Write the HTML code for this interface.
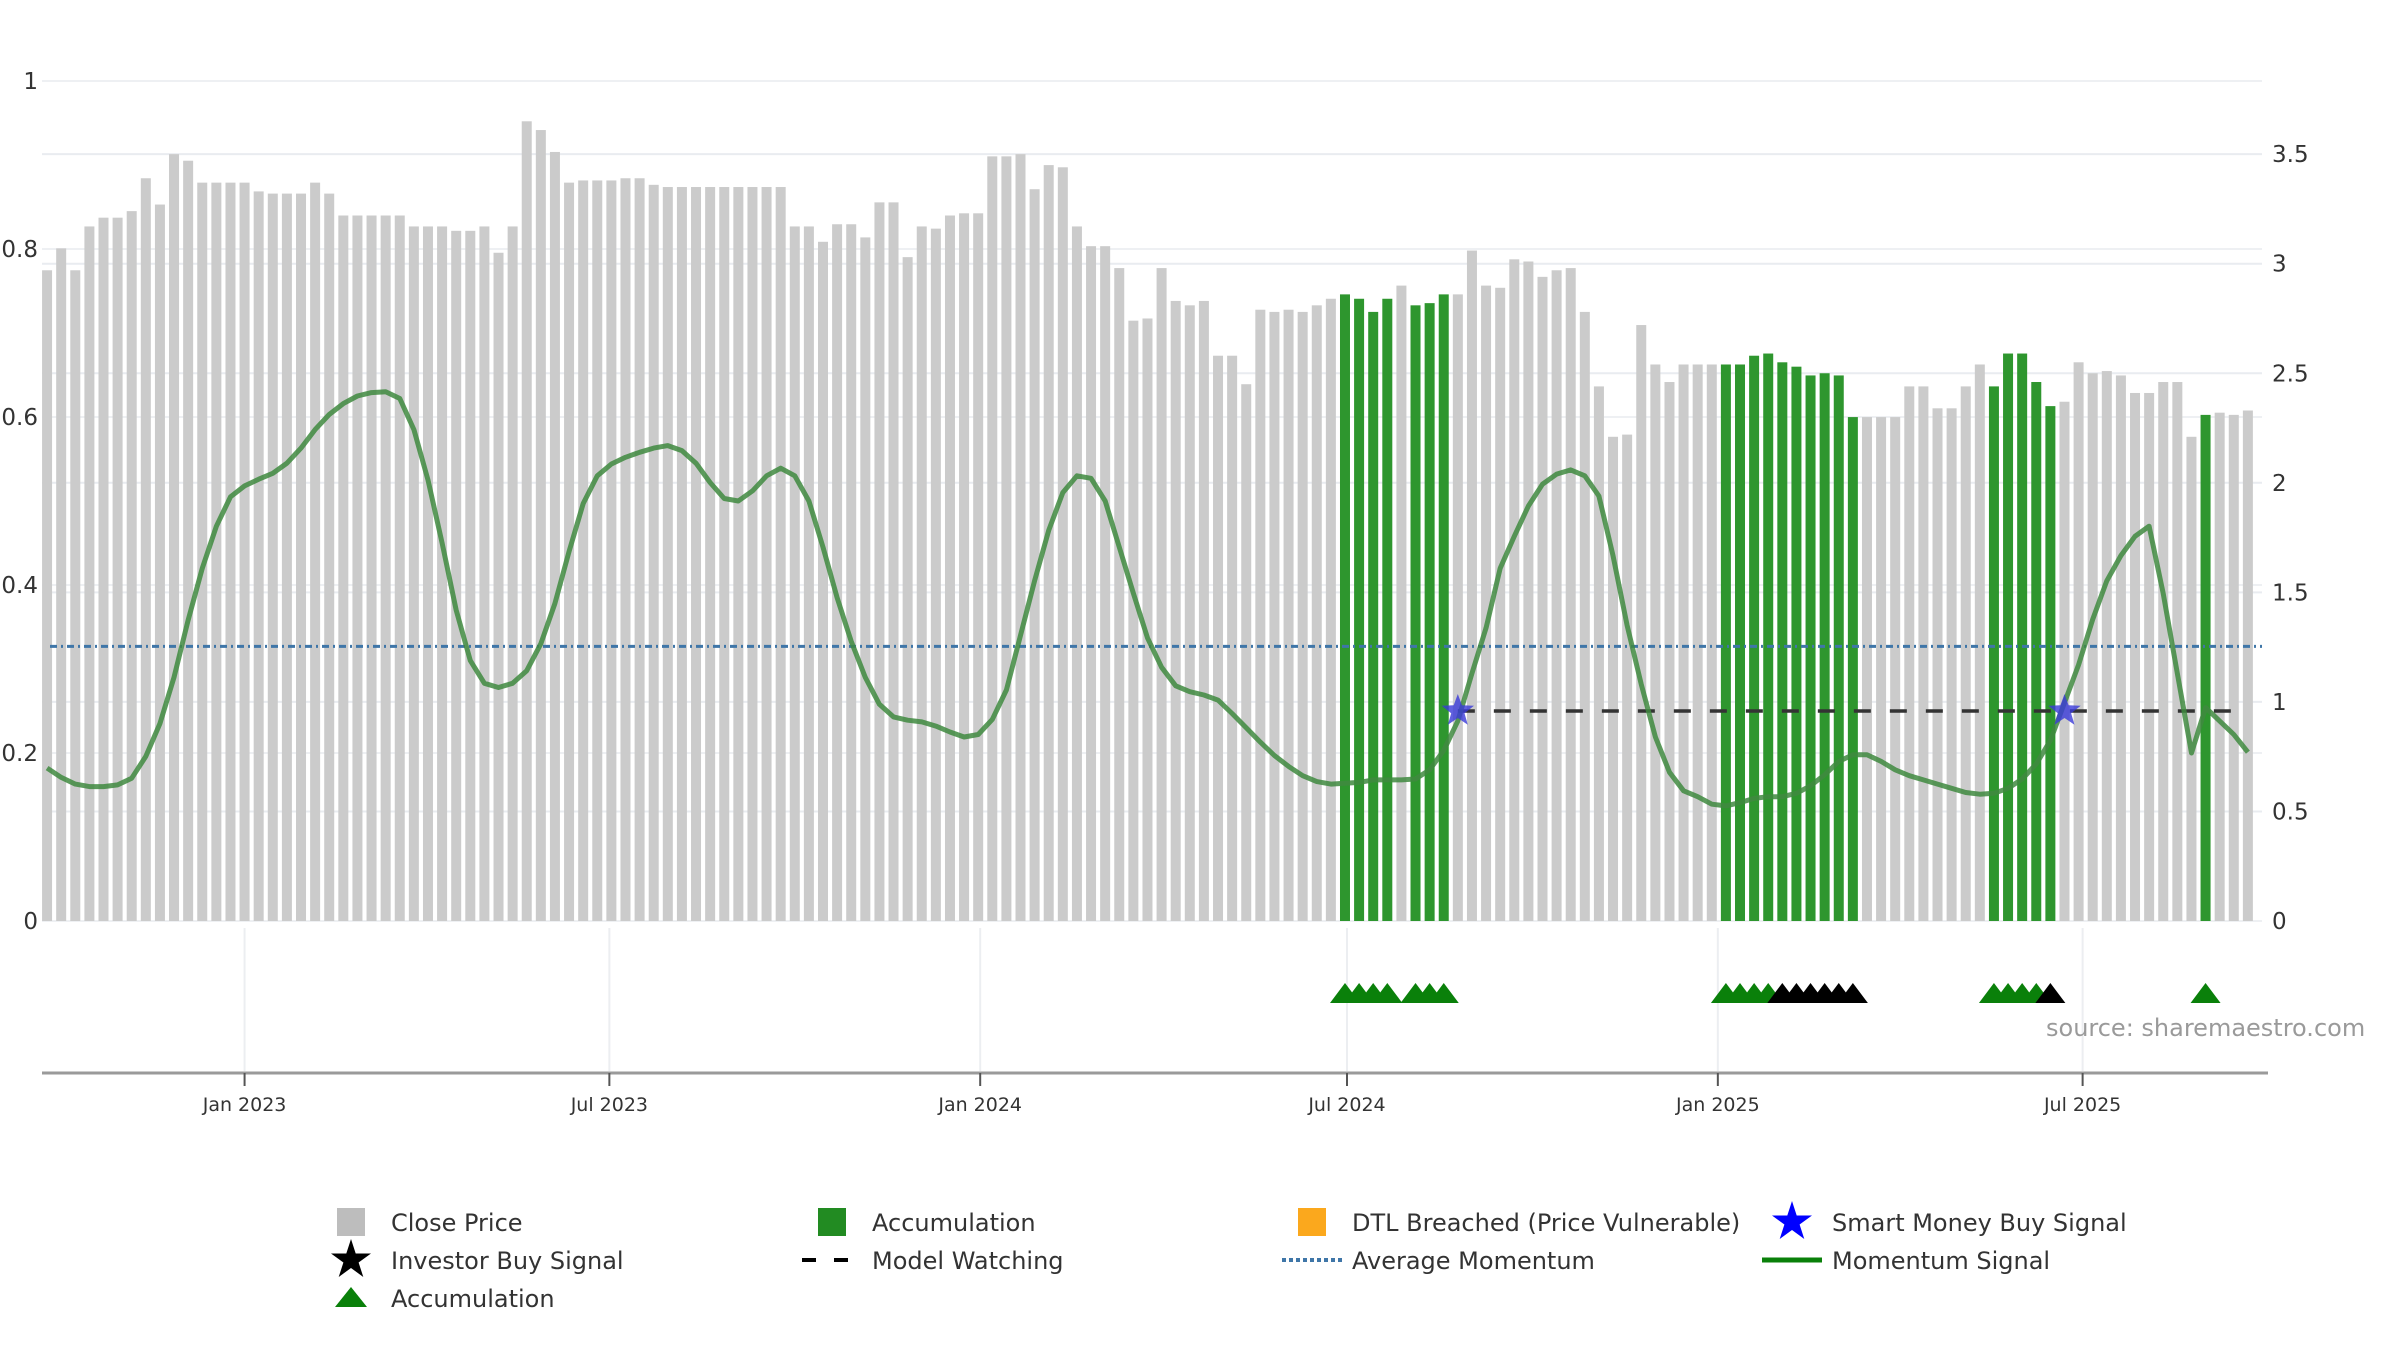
<!DOCTYPE html>
<html><head><meta charset="utf-8">
<style>
html,body{margin:0;padding:0;background:#fff;}
svg{display:block;font-family:"DejaVu Sans","Liberation Sans",sans-serif;}
</style></head>
<body>
<svg id="chart" width="2400" height="1350" viewBox="0 0 2400 1350" xmlns="http://www.w3.org/2000/svg">
  <g id="grid"></g>
  <g id="bars"></g>
  <g id="lines"></g>
  <g id="markers"></g>
  <g id="axes"></g>
  <text x="2046" y="1036" font-size="24" fill="#9a9a9a">source: sharemaestro.com</text>
  <g id="legend"></g>
</svg>
<script>
// ---- data ----
const closePrice = [2.97,3.07,2.97,3.17,3.21,3.21,3.24,3.39,3.27,3.50,3.47,3.37,3.37,3.37,3.37,3.33,3.32,3.32,3.32,3.37,3.32,3.22,3.22,3.22,3.22,3.22,3.17,3.17,3.17,3.15,3.15,3.17,3.05,3.17,3.65,3.61,3.51,3.37,3.38,3.38,
3.38,3.39,3.39,3.36,3.35,3.35,3.35,3.35,3.35,3.35,3.35,3.35,3.35,3.17,3.17,3.10,3.18,3.18,3.12,3.28,3.28,3.03,3.17,3.16,3.22,3.23,3.23,3.49,3.49,3.50,3.34,3.45,3.44,3.17,3.08,3.08,2.98,2.74,2.75,
2.98,2.83,2.81,2.83,2.58,2.58,2.45,2.79,2.78,2.79,2.78,2.81,2.84,2.86,2.84,2.78,2.84,2.90,2.81,2.82,2.86,2.86,3.06,2.90,2.89,3.02,3.01,2.94,2.97,2.98,2.78,2.44,2.21,2.22,2.72,2.54,2.46,2.54,
2.54,2.54,2.54,2.54,2.58,2.59,2.55,2.53,2.49,2.50,2.49,2.30,2.30,2.30,2.30,2.44,2.44,2.34,2.34,2.44,2.54,2.44,2.59,2.59,2.46,2.35,2.37,2.55,2.50,2.51,2.49,2.41,2.41,2.46,2.46,2.21,2.31,2.32,2.31,2.33];
const momentum = [0.182,0.171,0.163,0.160,0.160,0.162,0.170,0.196,0.235,0.29,0.358,0.42,0.47,0.505,0.518,0.526,0.533,0.545,0.563,0.585,0.603,0.616,0.625,0.629,0.630,0.622,0.585,0.525,0.45,0.37,0.31,0.283,0.278,0.283,0.298,0.33,0.378,0.44,0.497,0.53,
0.544,0.552,0.558,0.563,0.566,0.560,0.545,0.522,0.503,0.50,0.512,0.53,0.539,0.53,0.50,0.445,0.385,0.333,0.29,0.258,0.243,0.239,0.237,0.232,0.225,0.219,0.222,0.24,0.275,0.34,0.405,0.465,0.51,0.53,0.527,0.5,0.445,0.39,0.337,
0.302,0.280,0.273,0.269,0.263,0.247,0.230,0.213,0.197,0.184,0.173,0.166,0.163,0.164,0.165,0.168,0.168,0.168,0.169,0.18,0.203,0.238,0.295,0.349,0.42,0.458,0.494,0.52,0.532,0.537,0.53,0.506,0.435,0.352,0.282,0.219,0.177,0.155,
0.148,0.139,0.137,0.141,0.146,0.148,0.148,0.152,0.161,0.174,0.190,0.198,0.198,0.19,0.18,0.173,0.168,0.163,0.158,0.153,0.151,0.152,0.158,0.169,0.187,0.215,0.26,0.305,0.359,0.405,0.435,0.458,0.47,0.39,0.295,0.20,0.254,0.238,0.222,0.201];
const accumulationWeeks = [93,94,95,96,98,99,100,120,121,122,123,124,125,126,127,128,129,139,140,141,142,143,154];
const investorBuyWeeks = [124,125,126,127,128,129,143];
const smartMoneyWeeks = [101,144];
const averageMomentum = [0.327];
const modelWatchingLevel = [0.25];
const modelWatchingEndWeek = [156];
const firstWeek = ["2022-09-25"];
const xTickLabels = ["Jan 2023","Jul 2023","Jan 2024","Jul 2024","Jan 2025","Jul 2025"];
const xTickDates = ["2023-01-01","2023-07-01","2024-01-01","2024-07-01","2025-01-01","2025-07-01"];
const leftTicks = [0,0.2,0.4,0.6,0.8,1];
const leftTickLabels = ["0","0.2","0.4","0.6","0.8","1"];
const rightTicks = [0,0.5,1,1.5,2,2.5,3,3.5];
const rightTickLabels = ["0","0.5","1","1.5","2","2.5","3","3.5"];

// ---- scales ----
const NS = "http://www.w3.org/2000/svg";
const DAY = 86400000;
const refDate = Date.parse("2024-07-01");
function xDate(d){ return 1347 + (Date.parse(d) - refDate)/DAY*2.0154; }
function xWeek(w){ return 1347 + (Date.parse(firstWeek[0]) + (w-1)*7*DAY - refDate)/DAY*2.0154; }
function yL(v){ return 921 - v*840; }
function yR(v){ return 921 - v*219.1; }
function mk(tag, attrs, parent){
  const e = document.createElementNS(NS, tag);
  for (const k in attrs) e.setAttribute(k, attrs[k]);
  parent.appendChild(e); return e;
}
const gGrid = document.getElementById('grid');
const gBars = document.getElementById('bars');
const gLines = document.getElementById('lines');
const gMark = document.getElementById('markers');
const gAxes = document.getElementById('axes');
const gLeg = document.getElementById('legend');
const X0 = 42, X1 = 2268;

// gridlines
rightTicks.forEach(t=>{
  const l = mk('line',{x1:X0,x2:X1-6,y1:yR(t),y2:yR(t),stroke:'#e9ecf0','stroke-width':2},gGrid);
  
  
});
leftTicks.forEach(t=>{
  const l = mk('line',{x1:X0,x2:X1-6,y1:yL(t),y2:yL(t),stroke:'#eef0f3','stroke-width':2},gGrid);
  
  
});
xTickDates.forEach(d=>{
  const x = xDate(d);
  const l = mk('line',{x1:x,x2:x,y1:928,y2:1071,stroke:'#eceef1','stroke-width':2},gGrid);
  
  
});

// bars
closePrice.forEach((v,i)=>{
  const w = i+1;
  const acc = accumulationWeeks.includes(w);
  const x = xWeek(w);
  const r = mk('rect',{x:x-5,y:yR(v),width:10,height:921-yR(v),fill:acc?'#2e962e':'#cbcbcb'},gBars);
  
  
});

// average momentum
const avg = mk('line',{x1:X0+8,x2:X1-6,y1:yL(averageMomentum[0]),y2:yL(averageMomentum[0]),stroke:'#3f76a8','stroke-width':3,'stroke-dasharray':'7,4,2,4'},gLines);



// model watching
const mw = mk('line',{x1:xWeek(smartMoneyWeeks[0]),x2:xWeek(modelWatchingEndWeek[0]),y1:yL(modelWatchingLevel[0]),y2:yL(modelWatchingLevel[0]),stroke:'#333','stroke-width':3.5,'stroke-dasharray':'17,19'},gLines);



// momentum line
let d = '';
momentum.forEach((v,i)=>{ d += (i?'L':'M') + xWeek(i+1).toFixed(1) + ',' + yL(v).toFixed(1); });
const ml = mk('path',{d:d,fill:'none',stroke:'#3f8a3f','stroke-opacity':0.85,'stroke-width':5,'stroke-linejoin':'round'},gLines);



// star helper
function starPts(cx,cy,R,r){
  let p=[];
  for(let k=0;k<10;k++){const a=-Math.PI/2+k*Math.PI/5;const rr=k%2?r:R;p.push((cx+rr*Math.cos(a)).toFixed(1)+','+(cy+rr*Math.sin(a)).toFixed(1));}
  return p.join(' ');
}
smartMoneyWeeks.forEach(w=>{
  const s = mk('polygon',{points:starPts(xWeek(w),yL(modelWatchingLevel[0]),17,7),fill:'#3a3ad8','fill-opacity':0.8},gMark);
  
  
});

// triangles
function tri(x,col,name){
  const t = mk('polygon',{points:(x-15)+',1003 '+x+',983 '+(x+15)+',1003',fill:col},gMark);
  
  
}
accumulationWeeks.forEach(w=>{ if(!investorBuyWeeks.includes(w)) tri(xWeek(w),'#0a800a','accumulation-marker'); });
investorBuyWeeks.forEach(w=>{ tri(xWeek(w),'#000','investor-buy-marker'); });

// axes
const xa = mk('line',{x1:X0,x2:X1,y1:1073,y2:1073,stroke:'#9a9a9a','stroke-width':3},gAxes);


xTickDates.forEach((dt,i)=>{
  const x = xDate(dt);
  const tk = mk('line',{x1:x,x2:x,y1:1073,y2:1086,stroke:'#555','stroke-width':2},gAxes);
  
  
  const tx = mk('text',{x:x,y:1111,'font-size':19,'text-anchor':'middle',fill:'#333'},gAxes);
  tx.textContent = xTickLabels[i];
  
  
});
leftTicks.forEach((t,i)=>{
  const tx = mk('text',{x:38,y:yL(t)+8,'font-size':23,'text-anchor':'end',fill:'#333'},gAxes);
  tx.textContent = leftTickLabels[i];
  
  
});
rightTicks.forEach((t,i)=>{
  const tx = mk('text',{x:2272,y:yR(t)+8,'font-size':23,'text-anchor':'start',fill:'#333'},gAxes);
  tx.textContent = rightTickLabels[i];
  
  
});

// legend
const legendItems = [
  {label:'Close Price',kind:'rect',col:'#bdbdbd',x:351,y:1222,name:'legend-close-price'},
  {label:'Accumulation',kind:'rect',col:'#228b22',x:832,y:1222,name:'legend-accumulation-bar'},
  {label:'DTL Breached (Price Vulnerable)',kind:'rect',col:'#fba81d',x:1312,y:1222,name:'legend-dtl-breached'},
  {label:'Smart Money Buy Signal',kind:'star',col:'#0000ff',x:1792,y:1222,name:'legend-smart-money'},
  {label:'Investor Buy Signal',kind:'star',col:'#000000',x:351,y:1260,name:'legend-investor-buy'},
  {label:'Model Watching',kind:'dash',col:'#000',x:832,y:1260,name:'legend-model-watching'},
  {label:'Average Momentum',kind:'dot',col:'#3f76a8',x:1312,y:1260,name:'legend-average-momentum'},
  {label:'Momentum Signal',kind:'line',col:'#0a800a',x:1792,y:1260,name:'legend-momentum-signal'},
  {label:'Accumulation',kind:'tri',col:'#0a800a',x:351,y:1298,name:'legend-accumulation-marker'}
];
legendItems.forEach(it=>{
  const g = mk('g',{},gLeg);
  
  
  if(it.kind==='rect') mk('rect',{x:it.x-14,y:it.y-14,width:28,height:28,fill:it.col},g);
  if(it.kind==='star') mk('polygon',{points:starPts(it.x,it.y,21,8),fill:it.col},g);
  if(it.kind==='tri') mk('polygon',{points:(it.x-16)+','+(it.y+9)+' '+it.x+','+(it.y-11)+' '+(it.x+16)+','+(it.y+9),fill:it.col},g);
  if(it.kind==='dash') mk('line',{x1:it.x-30,x2:it.x+30,y1:it.y,y2:it.y,stroke:it.col,'stroke-width':4,'stroke-dasharray':'14,18'},g);
  if(it.kind==='dot') mk('line',{x1:it.x-30,x2:it.x+30,y1:it.y,y2:it.y,stroke:it.col,'stroke-width':4,'stroke-dasharray':'4,3'},g);
  if(it.kind==='line') mk('line',{x1:it.x-30,x2:it.x+30,y1:it.y,y2:it.y,stroke:it.col,'stroke-width':5},g);
  const t = mk('text',{x:it.x+40,y:it.y+9,'font-size':24,fill:'#333'},g);
  t.textContent = it.label;
});
</script>
</body></html>
